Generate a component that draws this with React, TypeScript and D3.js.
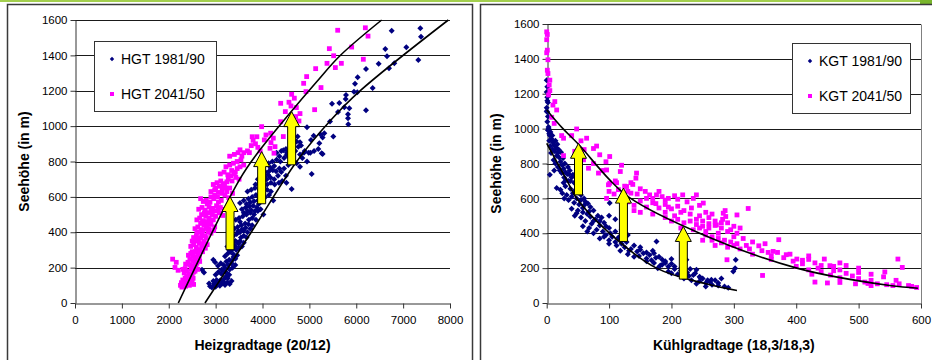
import React, { useEffect, useRef } from "react";
import * as d3 from "d3";

type Pt = [number, number];

// Heizgradtage (20/12) vs. Seehöhe
const hgt1981: Pt[] = [
    [6756, 1539], [7367, 1553], [7381, 1506], [7068, 1446], [6620, 1436], [6656, 1395], [6812, 1355], [7324, 1374],
    [6478, 1353], [6699, 1327], [6208, 1323], [6030, 1276], [5973, 1240], [6350, 1216], [5781, 1176], [5952, 1195],
    [6023, 1191], [5774, 1154], [5483, 1127], [5639, 1131], [5745, 1107], [5852, 1101], [5611, 1080], [5824, 1067],
    [5824, 1045], [5830, 1011], [6208, 1090], [5440, 1026], [4949, 994], [5319, 960], [5234, 954], [5092, 945],
    [5511, 941], [5283, 935], [5212, 903], [5191, 871], [5035, 922], [5262, 847], [5021, 850], [4885, 850],
    [4985, 850], [4750, 941], [4729, 913], [4800, 909], [4764, 884], [4444, 864], [4821, 890], [4516, 837],
    [2880, 95], [2920, 88], [2960, 100], [3000, 92], [3040, 105], [3090, 98], [3140, 110], [3200, 102],
    [3250, 118], [3300, 108], [3340, 125], [2950, 125], [3020, 130], [3100, 128], [3180, 135], [3260, 140],
    [3000, 160], [3060, 175], [3120, 165], [3180, 180], [3240, 170], [3300, 190], [3360, 200], [3420, 215],
    [3050, 210], [3110, 225], [3170, 215], [3230, 235], [3290, 245], [3350, 240], [3420, 250], [2990, 230],
    [2950, 245], [2709, 188], [2752, 173],
    [3200, 265], [3260, 280], [3320, 290], [3380, 275], [3440, 300], [3500, 310], [3560, 320], [3250, 320],
    [3310, 335], [3380, 330], [3450, 345], [3520, 350], [3600, 340],
    [3320, 370], [3380, 380], [3450, 390], [3520, 400], [3600, 410], [3680, 400], [3740, 420], [3400, 420],
    [3470, 430], [3550, 440], [3630, 450], [3700, 445], [3780, 440],
    [3430, 470], [3500, 480], [3580, 490], [3660, 500], [3740, 510], [3820, 500], [3900, 520], [3560, 530],
    [3640, 540], [3720, 545], [3800, 550], [3880, 540], [3960, 530], [4020, 500],
    [3520, 565], [3600, 580], [3700, 590], [3780, 600], [3860, 610], [3940, 600], [4020, 620], [4100, 640],
    [4180, 630], [3680, 630], [3760, 640], [3840, 650], [4230, 580], [4622, 644],
    [3850, 670], [3930, 680], [4010, 690], [4090, 700], [4170, 710], [4250, 700], [4330, 720], [4420, 690],
    [4510, 680], [3980, 730], [4060, 740], [4140, 745], [4220, 750], [4400, 740], [4500, 720],
    [4050, 780], [4130, 790], [4210, 800], [4300, 810], [4380, 800], [4460, 820], [4550, 830], [4640, 840],
    [4730, 790], [4800, 770], [5049, 730], [4300, 850], [4400, 860], [4500, 870], [4700, 860], [5100, 860],
    [5283, 843], [4850, 820], [4950, 800],
    [2860, 110], [2980, 110], [3060, 115], [3160, 120], [3220, 150], [3290, 160], [3130, 190], [3200, 200],
    [3270, 215], [3340, 225], [3380, 260], [3460, 270], [3290, 300], [3360, 305], [3420, 320], [3490, 335],
    [3540, 370], [3600, 380], [3660, 370], [3420, 350], [3480, 405], [3560, 415], [3640, 425], [3710, 470],
    [3780, 480], [3860, 470], [3520, 460], [3600, 510], [3680, 520], [3760, 525], [3840, 520], [3920, 560],
    [3660, 560], [3740, 570], [3820, 575], [3900, 580], [3990, 580], [4060, 600], [4140, 610], [3940, 640],
    [4020, 655], [4100, 670], [4180, 680], [4260, 670], [4350, 680], [3900, 700], [4040, 715], [4120, 725],
    [4290, 745], [4360, 760], [4460, 760], [4550, 780], [4620, 800], [4170, 765], [4250, 775], [4520, 850],
    [4600, 860], [4360, 830], [4800, 840], [4900, 860],
];

const hgt2041: Pt[] = [
    [5604, 1542], [6194, 1556], [6251, 1509], [5902, 1447], [5426, 1438], [5518, 1398], [6151, 1378], [5376, 1355],
    [5682, 1355], [5554, 1331], [5134, 1325], [4942, 1280], [4878, 1242], [5248, 1218], [4928, 1195], [4622, 1180],
    [4679, 1158], [4388, 1129], [4565, 1135], [4608, 1114], [4722, 1105], [4487, 1082], [4800, 1071], [4708, 1054],
    [4778, 1029], [5112, 1093],
    [3982, 997], [4388, 1025], [4074, 950], [4174, 960], [4231, 932], [4444, 941], [4039, 922], [4181, 907],
    [4267, 884], [4160, 875], [4245, 847], [3800, 920], [3850, 900], [3760, 890], [3900, 880], [3720, 850],
    [3950, 860], [3780, 940], [3880, 940],
    [2280, 90], [2320, 100], [2360, 95], [2400, 110], [2440, 100], [2480, 115], [2530, 105], [2300, 130],
    [2350, 140], [2410, 135], [2460, 145], [2520, 140], [2270, 115],
    [2330, 170], [2380, 180], [2430, 165], [2480, 190], [2530, 175], [2580, 200], [2620, 190], [2360, 220],
    [2410, 230], [2460, 215], [2510, 240], [2560, 225], [2610, 245], [2660, 235], [2083, 248], [2133, 201],
    [2160, 230], [2200, 185],
    [2420, 270], [2470, 280], [2520, 265], [2570, 290], [2620, 280], [2670, 300], [2720, 290], [2780, 310],
    [2470, 320], [2530, 330], [2590, 315], [2650, 340], [2720, 335], [2820, 330], [2500, 350],
    [2530, 370], [2590, 380], [2650, 365], [2710, 390], [2770, 380], [2840, 400], [2900, 395], [2960, 410],
    [2560, 420], [2620, 430], [2690, 415], [2750, 440], [2820, 435], [2900, 445], [2980, 430],
    [2600, 470], [2660, 480], [2720, 465], [2790, 490], [2860, 480], [2930, 500], [3000, 490], [3080, 510],
    [3150, 495], [2640, 530], [2710, 540], [2780, 525], [2860, 545], [2940, 535], [3020, 550], [3100, 540],
    [3180, 530],
    [2737, 574], [2680, 590], [2800, 580], [2880, 570], [2960, 590], [3040, 600], [3120, 580], [3200, 610],
    [3280, 595], [3360, 620], [2900, 630], [2980, 640], [3060, 625], [3140, 645], [3220, 650],
    [2950, 670], [3030, 680], [3110, 690], [3190, 675], [3270, 700], [3350, 690], [3430, 710], [3500, 700],
    [3100, 730], [3180, 740], [3260, 725], [3342, 749], [3420, 740],
    [3220, 770], [3300, 780], [3380, 790], [3460, 800], [3540, 810], [3600, 780], [3300, 830], [3400, 840],
    [3480, 850], [3520, 866], [3600, 850], [3680, 860],
    [2250, 100], [2330, 115], [2390, 125], [2450, 125], [2500, 130], [2380, 150], [2440, 160], [2500, 160],
    [2560, 180], [2300, 190], [2350, 195], [2450, 250], [2540, 210], [2600, 225], [2650, 260], [2560, 260],
    [2500, 290], [2600, 300], [2700, 320], [2560, 350], [2620, 355], [2680, 370], [2760, 350], [2800, 370],
    [2600, 400], [2660, 400], [2730, 410], [2800, 420], [2860, 420], [2680, 450], [2740, 460], [2810, 460],
    [2880, 465], [2950, 470], [2700, 500], [2760, 510], [2840, 510], [2900, 520], [2980, 520], [3050, 530],
    [2820, 560], [2900, 600], [2980, 610], [3060, 570], [3140, 620], [3240, 630], [3300, 650], [3000, 650],
    [3080, 660], [3160, 665], [3240, 685], [3320, 720], [3400, 730], [3460, 760], [3520, 770], [3560, 830],
];

const hgtTrend1981: Pt[] = [[2773, 0], [3760, 400], [4729, 800], [5440, 1029], [6080, 1199], [7964, 1600]];
const hgtTrend2041: Pt[] = [[2204, 0], [3507, 696], [3947, 866], [4551, 1063], [5156, 1251], [5653, 1398], [6542, 1600]];
// [x, from, to]
const hgtArrows: [number, number, number][] = [[3307, 301, 602], [3982, 561, 856], [4622, 781, 1082]];

// Kühlgradtage (18,3/18,3) vs. Seehöhe
const kgt1981: Pt[] = [
    [0, 1278], [1, 1240], [0, 1210], [1, 1180], [2, 1150], [0, 1120], [1, 1095], [2, 1070], [1, 1040], [3, 1010],
    [2, 990], [4, 970], [1, 1160], [0, 1100],
    [3, 990], [5, 960], [8, 940], [4, 930], [10, 920], [6, 900], [12, 905], [15, 890], [9, 880], [13, 870],
    [18, 860], [7, 860], [16, 845], [20, 835], [11, 820], [14, 800], [22, 810], [25, 790], [18, 780], [27, 770],
    [21, 760], [30, 750], [5, 735], [24, 745], [33, 740], [36, 739], [28, 720], [40, 720], [31, 705], [12, 760],
    [38, 700],
    [16, 660], [22, 650], [30, 670], [38, 655], [45, 645], [27, 690], [48, 680],
    [25, 630], [32, 620], [40, 610], [48, 600], [55, 590], [35, 590], [44, 575], [52, 565], [60, 560], [28, 600],
    [62, 580], [101, 573], [70, 550],
    [40, 540], [50, 530], [58, 520], [65, 510], [45, 500], [55, 490], [70, 495], [78, 480], [62, 470], [85, 470],
    [72, 455], [48, 515], [92, 460], [100, 500], [110, 480],
    [58, 440], [68, 430], [80, 420], [90, 410], [75, 400], [95, 390], [105, 380], [85, 370], [115, 375], [100, 360],
    [122, 365], [110, 350], [65, 410], [130, 390], [120, 420], [176, 353],
    [100, 340], [112, 330], [125, 320], [135, 310], [118, 300], [145, 295], [155, 285], [130, 280], [165, 275],
    [140, 265], [175, 260], [160, 255], [185, 250], [150, 320], [200, 252], [224, 248], [170, 300],
    [160, 240], [172, 230], [185, 220], [195, 210], [178, 200], [205, 195], [215, 185], [195, 180], [225, 175],
    [210, 165], [235, 160], [245, 150], [190, 230], [220, 210], [240, 190],
    [220, 140], [232, 130], [245, 125], [255, 115], [240, 110], [265, 105], [275, 100], [255, 95], [285, 95],
    [246, 145], [270, 130], [291, 88], [264, 133], [299, 181], [302, 200], [303, 248], [280, 140],
    [3, 1000], [6, 980], [9, 960], [14, 930], [17, 910], [19, 880], [23, 865], [26, 830], [29, 800], [34, 780],
    [37, 760], [42, 735], [35, 700], [44, 690], [50, 660], [42, 630], [55, 620], [60, 600], [66, 570], [58, 545],
    [75, 530], [68, 525], [82, 500], [88, 490], [75, 470], [95, 440], [100, 430], [85, 445], [110, 410], [102, 400],
    [120, 395], [92, 380], [128, 350], [120, 340], [140, 330], [132, 300], [150, 305], [160, 290], [148, 270],
    [172, 285], [180, 265], [168, 245], [190, 240], [200, 225], [182, 215], [205, 210], [215, 200], [230, 195],
    [200, 170], [228, 155], [238, 170], [250, 140], [258, 130], [262, 120], [275, 115],
];

const kgt2041: Pt[] = [
    [0, 1555], [1, 1540], [0, 1510], [1, 1450], [0, 1435], [2, 1395], [1, 1335], [2, 1316], [5, 1278], [4, 1250],
    [5, 1218], [3, 1193], [13, 1155], [10, 1135], [16, 1107], [8, 1065], [12, 1030],
    [27, 945], [24, 960], [48, 998], [40, 960], [64, 945], [55, 930], [75, 886], [80, 900], [60, 880], [27, 845],
    [45, 870], [101, 840], [85, 850], [59, 821], [67, 773], [83, 745], [90, 760], [96, 763], [118, 754], [144, 745],
    [143, 716], [101, 687], [110, 700], [128, 668], [138, 680], [75, 800], [95, 810], [120, 790],
    [99, 678], [112, 690], [125, 670], [135, 690], [100, 640], [108, 625], [122, 620], [135, 630], [145, 625],
    [158, 640], [176, 620], [185, 610], [195, 600], [180, 640], [205, 615], [218, 620], [240, 620], [251, 573],
    [96, 600],
    [130, 580], [140, 560], [150, 585], [160, 550], [170, 575], [180, 545], [190, 565], [200, 540], [210, 555],
    [220, 530], [232, 545], [245, 560], [255, 520], [265, 510], [283, 515], [286, 530], [305, 505], [150, 520],
    [170, 510], [190, 520], [140, 530],
    [190, 490], [200, 470], [210, 480], [220, 460], [230, 470], [240, 450], [250, 440], [260, 455], [270, 445],
    [280, 430], [290, 460], [300, 440], [215, 430], [235, 420], [255, 410], [275, 400], [290, 410], [282, 480],
    [323, 542], [272, 448], [287, 496],
    [255, 390], [265, 380], [275, 370], [285, 360], [295, 350], [305, 340], [270, 330], [290, 320], [310, 310],
    [320, 330], [340, 328], [372, 363], [250, 360], [300, 380], [315, 370], [330, 350], [350, 340],
    [363, 296], [384, 277], [401, 252], [380, 260], [395, 240], [420, 250], [445, 252], [454, 214], [430, 230],
    [410, 225], [360, 270], [346, 158], [470, 230], [480, 215], [400, 210], [289, 248],
    [420, 190], [440, 180], [460, 185], [480, 170], [500, 175], [520, 165], [540, 150], [455, 160], [470, 145],
    [500, 140], [520, 130], [542, 178], [425, 165], [490, 155], [560, 130], [510, 120],
    [430, 120], [450, 115], [470, 118], [495, 110], [515, 112], [530, 110], [545, 105], [565, 110], [585, 95],
    [593, 89], [570, 204], [563, 252], [580, 100], [520, 100], [555, 100],
    [115, 650], [130, 640], [150, 655], [165, 620], [170, 600], [190, 590], [210, 595], [225, 580], [235, 600],
    [160, 600], [175, 570], [195, 550], [215, 520], [230, 510], [245, 500], [260, 490], [270, 470], [240, 480],
    [250, 470], [205, 500], [260, 430], [245, 430], [280, 460], [295, 420], [305, 400], [310, 430], [265, 360],
    [280, 345], [300, 330], [325, 310], [345, 300], [355, 290], [330, 280], [370, 290], [390, 280], [420, 270],
    [360, 250], [410, 245], [440, 215], [460, 210], [500, 200], [470, 190], [435, 200],
];

const kgtTrend1981: Pt[] = [[0, 916], [32, 706], [48, 601], [101, 399], [176, 200], [255, 110], [305, 72]];
const kgtTrend2041: Pt[] = [[0, 1107], [26, 1000], [51, 910], [101, 706], [134, 601], [246, 399], [401, 200], [550, 100], [595, 85]];
const kgtArrows: [number, number, number][] = [[51, 620, 916], [123, 353, 659], [219, 137, 439]];

const yTicks = [0, 200, 400, 600, 800, 1000, 1200, 1400, 1600];
const hgtXTicks = [0, 1000, 2000, 3000, 4000, 5000, 6000, 7000, 8000];
const kgtXTicks = [0, 100, 200, 300, 400, 500, 600];

const hgtLabels = ["HGT 1981/90", "HGT 2041/50"];
const kgtLabels = ["KGT 1981/90", "KGT 2041/50"];

const FONT = "'Liberation Sans', Arial, sans-serif";
const NAVY = "#000080";
const MAGENTA = "#FF00FF";

const App: React.FC = () => {
    const svgRef = useRef<SVGSVGElement | null>(null);

    useEffect(() => {
        if (!svgRef.current) return;
        const svg = d3.select(svgRef.current);
        svg.selectAll("*").remove();
        const width = 932;
        const height = 360;

        svg.append("rect").attr("width", width).attr("height", height).attr("fill", "#fff");

        // green bar on top
        svg.append("rect").attr("x", 0).attr("y", 0).attr("width", width).attr("height", 2).attr("fill", "#A3CF4E");
        svg.append("rect").attr("x", 920).attr("y", 0).attr("width", 12).attr("height", 4).attr("fill", "#79B52C");

        // frames
        svg.append("rect").attr("x", 7.5).attr("y", 4.5).attr("width", 465).attr("height", 400)
            .attr("fill", "none").attr("stroke", "#3a3a3a").attr("stroke-width", 1.5);
        svg.append("rect").attr("x", 480.5).attr("y", 4.5).attr("width", 470).attr("height", 400)
            .attr("fill", "none").attr("stroke", "#3a3a3a").attr("stroke-width", 1.5);

        const drawPanel = (cfg: {
            left: number; right: number; top: number; bottom: number;
            xMax: number; xTicks: number[];
            s1: Pt[]; s2: Pt[]; t1: Pt[]; t2: Pt[];
            arrows: [number, number, number][];
            xTitle: string; yTitleX: number;
            legend: { x: number; y: number; w: number; h: number; labels: string[] };
            border: boolean;
        }) => {
            const x = d3.scaleLinear().domain([0, cfg.xMax]).range([cfg.left, cfg.right]);
            const y = d3.scaleLinear().domain([0, 1600]).range([cfg.bottom, cfg.top]);
            const g = svg.append("g");

            g.selectAll("line.grid")
                .data(yTicks.filter((t) => t > 0))
                .join("line")
                .attr("class", "grid")
                .attr("x1", cfg.left)
                .attr("x2", cfg.right)
                .attr("y1", (d) => Math.round(y(d)) + 0.5)
                .attr("y2", (d) => Math.round(y(d)) + 0.5)
                .attr("stroke", "#1a1a1a")
                .attr("stroke-width", 1);

            if (cfg.border) {
                g.append("line")
                    .attr("x1", Math.round(cfg.right) + 0.5).attr("x2", Math.round(cfg.right) + 0.5)
                    .attr("y1", Math.round(cfg.top) + 0.5).attr("y2", Math.round(cfg.bottom) + 0.5)
                    .attr("stroke", "#808080");
            }

            const yAxis = g.append("g")
                .attr("transform", `translate(${Math.round(cfg.left) + 0.5},0)`)
                .call(d3.axisLeft(y).tickValues(yTicks).tickFormat(d3.format("d")).tickSize(5).tickSizeOuter(0).tickPadding(3));
            const xAxis = g.append("g")
                .attr("transform", `translate(0,${Math.round(cfg.bottom) + 0.5})`)
                .call(d3.axisBottom(x).tickValues(cfg.xTicks).tickFormat(d3.format("d")).tickSize(5).tickSizeOuter(0).tickPadding(7));
            [yAxis, xAxis].forEach((a) => {
                a.selectAll("path,line").attr("stroke", "#333");
                a.selectAll("text")
                    .style("font-family", FONT)
                    .attr("font-size", "11.5px")
                    .attr("fill", "#000");
            });

            // series 1981/90: navy diamonds
            g.selectAll("path.s1")
                .data(cfg.s1)
                .join("path")
                .attr("class", "s1")
                .attr("d", "M0,-3L3,0L0,3L-3,0Z")
                .attr("transform", (d) => `translate(${x(d[0])},${y(d[1])})`)
                .attr("fill", NAVY);

            // series 2041/50: magenta squares
            g.selectAll("rect.s2")
                .data(cfg.s2)
                .join("rect")
                .attr("class", "s2")
                .attr("x", (d) => x(d[0]) - 2.4)
                .attr("y", (d) => y(d[1]) - 2.4)
                .attr("width", 4.8)
                .attr("height", 4.8)
                .attr("fill", MAGENTA);

            const line = d3.line<Pt>().x((d) => x(d[0])).y((d) => y(d[1])).curve(d3.curveCatmullRom.alpha(0.5));
            [cfg.t1, cfg.t2].forEach((t) => {
                g.append("path").attr("d", line(t)).attr("fill", "none").attr("stroke", "#000").attr("stroke-width", 1.6);
            });

            // yellow arrows
            g.selectAll("path.arrow")
                .data(cfg.arrows)
                .join("path")
                .attr("class", "arrow")
                .attr("d", (d) => {
                    const cx = x(d[0]);
                    const b = y(d[1]);
                    const t = y(d[2]);
                    const hl = 15;
                    return `M${cx - 4},${b}L${cx - 4},${t + hl}L${cx - 8},${t + hl}L${cx},${t}L${cx + 8},${t + hl}L${cx + 4},${t + hl}L${cx + 4},${b}Z`;
                })
                .attr("fill", "#FFFF00")
                .attr("stroke", "#000")
                .attr("stroke-width", 1);

            // axis titles
            g.append("text")
                .attr("x", (cfg.left + cfg.right) / 2)
                .attr("y", 350)
                .attr("text-anchor", "middle")
                .style("font-family", FONT)
                .attr("font-size", "14px")
                .attr("font-weight", "bold")
                .text(cfg.xTitle);
            g.append("text")
                .attr("transform", `translate(${cfg.yTitleX},${(cfg.top + cfg.bottom) / 2}) rotate(-90)`)
                .attr("text-anchor", "middle")
                .style("font-family", FONT)
                .attr("font-size", "14px")
                .attr("font-weight", "bold")
                .text("Seehöhe (in m)");

            // legend
            const lg = cfg.legend;
            g.append("rect")
                .attr("x", lg.x + 0.5).attr("y", lg.y + 0.5).attr("width", lg.w).attr("height", lg.h)
                .attr("fill", "#fff").attr("stroke", "#333");
            const rowY = [lg.y + 18, lg.y + 53];
            g.append("path")
                .attr("d", "M0,-2.2L2.2,0L0,2.2L-2.2,0Z")
                .attr("transform", `translate(${lg.x + 18},${rowY[0]})`)
                .attr("fill", NAVY);
            g.append("rect")
                .attr("x", lg.x + 16).attr("y", rowY[1] - 2).attr("width", 4).attr("height", 4)
                .attr("fill", MAGENTA);
            lg.labels.forEach((lab, i) => {
                g.append("text")
                    .attr("x", lg.x + 27)
                    .attr("y", rowY[i] + 5)
                    .style("font-family", FONT)
                    .attr("font-size", "14px")
                    .attr("fill", "#000")
                    .text(lab);
            });
        };

        drawPanel({
            left: 75, right: 450, top: 20, bottom: 303,
            xMax: 8000, xTicks: hgtXTicks,
            s1: hgt1981, s2: hgt2041, t1: hgtTrend1981, t2: hgtTrend2041,
            arrows: hgtArrows,
            xTitle: "Heizgradtage (20/12)", yTitleX: 29,
            legend: { x: 94, y: 41, w: 122, h: 70, labels: hgtLabels },
            border: false,
        });
        drawPanel({
            left: 546.7, right: 921, top: 24, bottom: 303,
            xMax: 600, xTicks: kgtXTicks,
            s1: kgt1981, s2: kgt2041, t1: kgtTrend1981, t2: kgtTrend2041,
            arrows: kgtArrows,
            xTitle: "Kühlgradtage (18,3/18,3)", yTitleX: 501,
            legend: { x: 792, y: 43, w: 118, h: 70, labels: kgtLabels },
            border: true,
        });
    }, []);

    return (
        <div style={{ position: "absolute", left: 0, top: 0, width: 932, height: 360, overflow: "hidden" }}>
            <svg ref={svgRef} width={932} height={360} style={{ display: "block" }}></svg>
        </div>
    );
};

export default App;
